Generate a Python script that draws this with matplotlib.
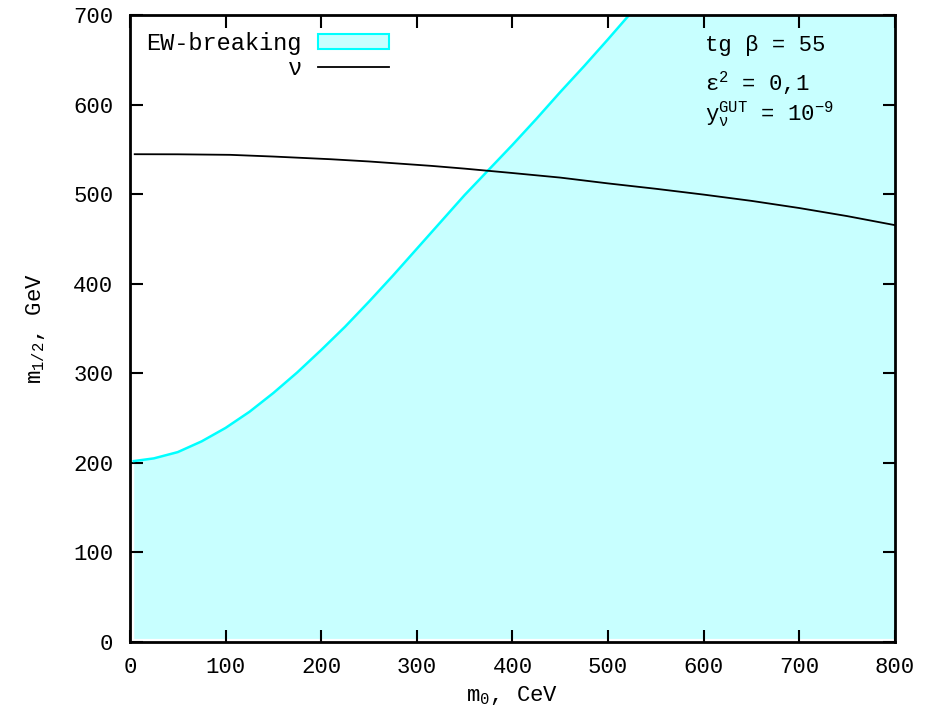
import matplotlib
matplotlib.use("Agg")
import matplotlib.pyplot as plt
from matplotlib.patches import Patch
from matplotlib.lines import Line2D

plt.rcParams['font.family'] = ['Liberation Mono', 'DejaVu Sans']
plt.rcParams['mathtext.fontset'] = 'custom'
plt.rcParams['mathtext.rm'] = 'Liberation Mono'
plt.rcParams['mathtext.it'] = 'Liberation Mono'
plt.rcParams['mathtext.bf'] = 'Liberation Mono'

# EW-breaking boundary
ew_x = [4, 25, 50, 75, 100, 125, 150, 175, 200, 225, 250, 275, 300, 325,
        350, 375, 400, 425, 450, 475, 500, 522]
ew_y = [202, 205, 212, 224, 239, 257, 278, 301, 326, 352, 380, 409, 439, 469,
        499, 527, 555, 584, 614, 643, 673, 700]
ew_floor = 4
ew_right = 800

# neutrino line
nu_x = [5, 50, 105, 150, 210, 250, 315, 350, 398, 450, 500, 550, 600, 650,
        700, 750, 800]
nu_y = [544.6, 544.5, 543.9, 542, 539, 536.5, 531.6, 528.5, 523.8, 518.5,
        512, 506, 499.5, 492.5, 484.5, 475.5, 465.4]

xticks = [0, 100, 200, 300, 400, 500, 600, 700, 800]
yticks = [0, 100, 200, 300, 400, 500, 600, 700]

fig = plt.figure(figsize=(9.28, 7.19), dpi=100)
ax = fig.add_axes([0.140, 0.1071, 0.8244, 0.872])

fill_col = '#c8ffff'
fx = ew_x + [ew_right]
fy = ew_y + [ew_y[-1]]
ax.fill_between(fx, [ew_floor] * len(fx), fy, color=fill_col, lw=0)
ax.plot(ew_x, ew_y, color='#00ffff', lw=1.8)
ax.plot(nu_x, nu_y, color='black', lw=1.3)

ax.set_xlim(0, 800)
ax.set_ylim(0, 700)
ax.set_xticks(xticks)
ax.set_yticks(yticks)
ax.tick_params(direction='in', length=9, width=1.5, top=True, right=True,
               labelsize=16)
ax.tick_params(axis='x', pad=11)
ax.tick_params(axis='y', pad=12)
for s in ax.spines.values():
    s.set_linewidth(2)

ax.set_xlabel(r'm$_{\mathrm{0}}$, CeV', fontsize=16, labelpad=4)
ax.set_ylabel(r'm$_{\mathrm{1/2}}$, GeV', fontsize=16, labelpad=19)

handles = [Patch(facecolor=fill_col, edgecolor='#00ffff', lw=1.5),
           Line2D([], [], color='black', lw=1.3)]
ax.legend(handles, ['EW-breaking', 'ν'], loc='upper right', frameon=False,
          markerfirst=False, fontsize=17, handlelength=3.0, handleheight=0.6,
          handletextpad=0.7, borderaxespad=0.0, labelspacing=0.12,
          borderpad=0.3, bbox_to_anchor=(0.348, 0.985))

ax.text(0.752, 0.952, 'tg β = 55', transform=ax.transAxes, fontsize=16,
        va='center', ha='left')
ax.text(0.752, 0.892, r'ε$^{\mathrm{2}}$ = 0,1', transform=ax.transAxes,
        fontsize=16, va='center', ha='left')
ax.text(0.752, 0.842, r'y$_{\mathrm{ν}}^{\mathrm{GUT}}$ = 10$^{\mathrm{-9}}$',
        transform=ax.transAxes, fontsize=16, va='center', ha='left')

fig.savefig('out.png', dpi=100)
